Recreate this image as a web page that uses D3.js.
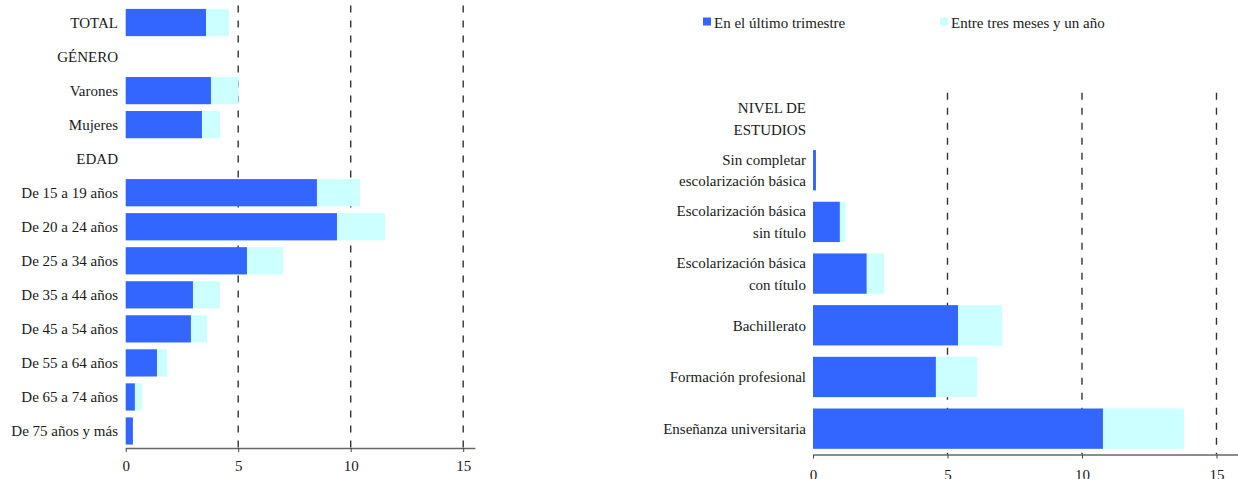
<!DOCTYPE html>
<html lang="es">
<head>
  <meta charset="UTF-8">
  <script src="https://d3js.org/d3.v7.min.js"></script>
  <title>Consumo por grupos</title>
  <style>
    body { margin: 0; background: #fff; }
  </style>
</head>
<body>
  <div id="chart"></div>
  <script>
    const FONT = "'Liberation Serif', 'DejaVu Serif', serif";

    // series names + colours (legend)
    const seriesNames = ['En el último trimestre', 'Entre tres meses y un año'];
    const seriesColors = ['#3366ff', '#ccffff'];

    // left panel: total, gender, age
    const leftCats = ['TOTAL', 'GÉNERO', 'Varones', 'Mujeres', 'EDAD',
      'De 15 a 19 años', 'De 20 a 24 años', 'De 25 a 34 años', 'De 35 a 44 años',
      'De 45 a 54 años', 'De 55 a 64 años', 'De 65 a 74 años', 'De 75 años y más'];
    const leftTrim = [3.57, null, 3.79, 3.39, null, 8.5, 9.39, 5.39, 2.99, 2.9, 1.39, 0.41, 0.32];
    const leftYear = [1.02, null, 1.23, 0.8, null, 1.91, 2.13, 1.6, 1.2, 0.71, 0.45, 0.31, 0];

    // right panel: level of studies ("|" = line break)
    const rightCats = ['NIVEL DE|ESTUDIOS', 'Sin completar|escolarización básica',
      'Escolarización básica|sin título', 'Escolarización básica|con título',
      'Bachillerato', 'Formación profesional', 'Enseñanza universitaria'];
    const rightTrim = [null, 0.11, 1.0, 2.0, 5.39, 4.57, 10.78];
    const rightYear = [null, 0, 0.21, 0.64, 1.64, 1.53, 3.01];

    const tickVals = [0, 5, 10, 15];

    const svg = d3.select('#chart').append('svg')
      .attr('width', 1238)
      .attr('height', 479)
      .attr('font-family', FONT);

    function panel(cats, trim, year, opt) {
      const g = svg.append('g');
      const x = d3.scaleLinear().domain([0, opt.xmax]).range([opt.x0, opt.x1]);
      const y = d3.scaleBand().domain(cats).range([opt.top, opt.bottom])
        .paddingInner(opt.pad).paddingOuter(opt.pad / 2);

      // dashed grid
      g.selectAll('line.grid')
        .data(tickVals.filter(d => d > 0))
        .enter()
        .append('line')
        .attr('class', 'grid')
        .attr('x1', d => x(d)).attr('x2', d => x(d))
        .attr('y1', opt.top).attr('y2', opt.bottom)
        .attr('stroke', '#333')
        .attr('stroke-width', 1.4)
        .attr('stroke-dasharray', '7,8');

      const rows = cats.map((c, i) => ({ cat: c, a: trim[i], b: year[i] }))
        .filter(d => d.a !== null);

      g.selectAll('rect.trim')
        .data(rows)
        .enter()
        .append('rect')
        .attr('x', x(0))
        .attr('y', d => y(d.cat))
        .attr('width', d => x(d.a) - x(0))
        .attr('height', y.bandwidth())
        .attr('fill', seriesColors[0]);

      g.selectAll('rect.year')
        .data(rows)
        .enter()
        .append('rect')
        .attr('x', d => x(d.a))
        .attr('y', d => y(d.cat))
        .attr('width', d => x(d.a + d.b) - x(d.a))
        .attr('height', y.bandwidth())
        .attr('fill', seriesColors[1]);

      // category labels
      const lab = g.selectAll('text.cat')
        .data(cats)
        .enter()
        .append('text')
        .attr('class', 'cat')
        .attr('text-anchor', 'end')
        .attr('font-size', 15)
        .attr('fill', '#1a1a1a')
        .attr('x', opt.labelX)
        .attr('y', d => y(d) + y.bandwidth() / 2);
      lab.each(function (d) {
        const parts = d.split('|');
        const t = d3.select(this);
        parts.forEach((p, i) => {
          t.append('tspan')
            .attr('x', opt.labelX)
            .attr('dy', i === 0 ? (0.35 - (parts.length - 1) * 0.73) + 'em' : '1.46em')
            .text(p);
        });
      });

      // x axis
      const ax = g.append('g')
        .attr('transform', `translate(0,${opt.bottom})`)
        .call(d3.axisBottom(x).tickValues(tickVals).tickSizeOuter(0).tickSizeInner(4).tickPadding(opt.tickPad));
      ax.attr('font-family', FONT);
      ax.select('.domain').attr('stroke', '#666').attr('stroke-width', 1.6);
      ax.selectAll('.tick line').attr('stroke', '#444');
      ax.selectAll('.tick text')
        .attr('font-size', 15)
        .attr('fill', '#1a1a1a');
    }

    panel(leftCats, leftTrim, leftYear, {
      x0: 125.7, x1: 474.9, xmax: 15.52,
      top: 5.5, bottom: 448, pad: 0.2, labelX: 118, tickPad: 8
    });

    panel(rightCats, rightTrim, rightYear, {
      x0: 813, x1: 1238, xmax: 15.8,
      top: 92.7, bottom: 454.5, pad: 0.22, labelX: 806, tickPad: 11
    });

    // legend
    const legX = [703, 940];
    const leg = svg.selectAll('g.leg')
      .data(seriesNames)
      .enter()
      .append('g')
      .attr('class', 'leg')
      .attr('transform', (d, i) => `translate(${legX[i]},17.5)`);
    leg.append('rect')
      .attr('width', 8).attr('height', 8)
      .attr('fill', (d, i) => seriesColors[i]);
    leg.append('text')
      .attr('x', 11)
      .attr('y', 10)
      .attr('font-size', 15)
      .attr('fill', '#1a1a1a')
      .text(d => d);
  </script>
</body>
</html>
